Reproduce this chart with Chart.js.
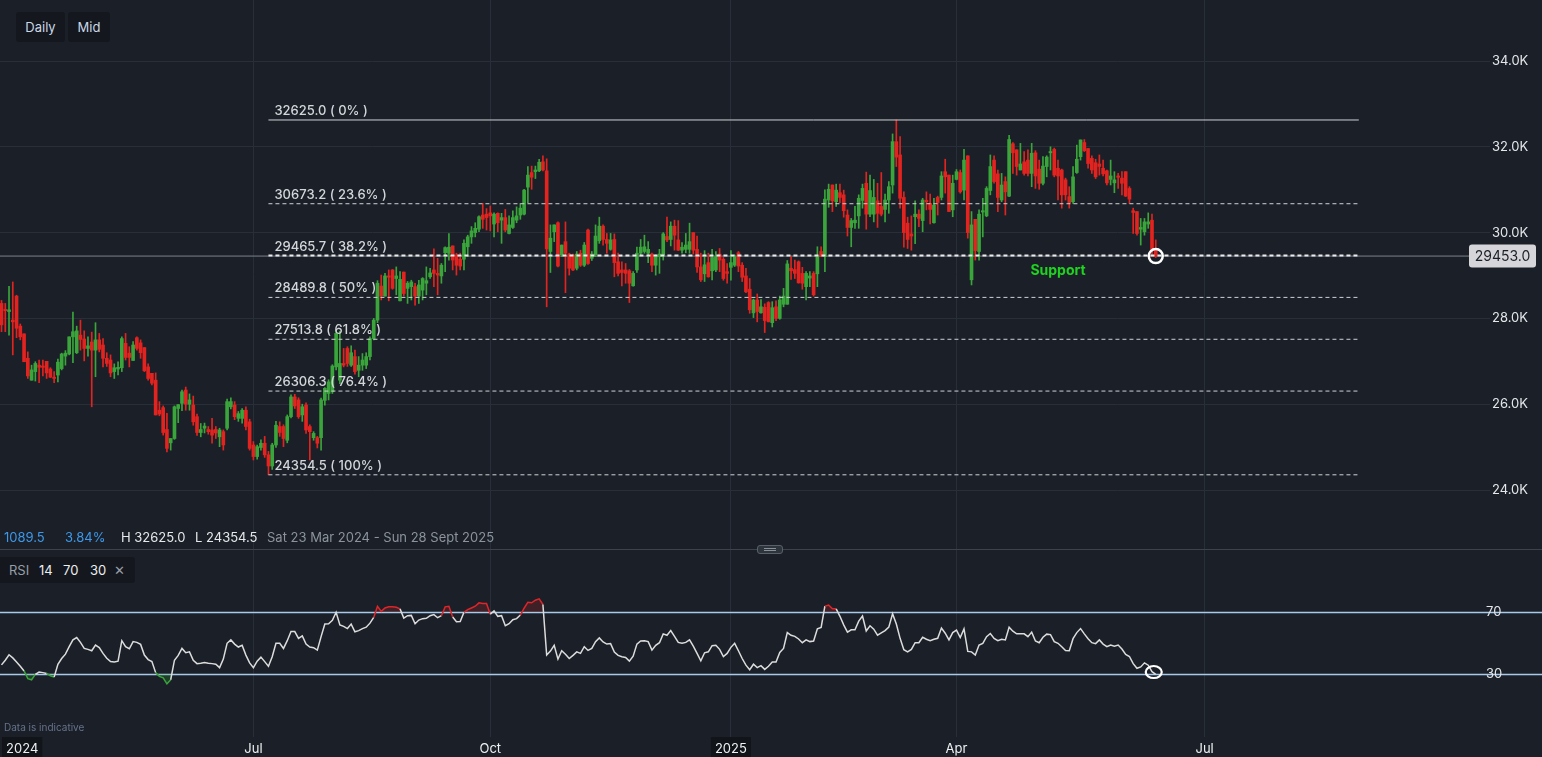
<!DOCTYPE html>
<html>
<head>
<meta charset="utf-8">
<script src="https://cdn.jsdelivr.net/npm/chart.js@4.4.1/dist/chart.umd.min.js"></script>
<style>
  body { margin: 0; background: #1b2028; width: 1542px; height: 757px; overflow: hidden; font-family: Inter, "Noto Sans", sans-serif; }
  canvas { position: absolute; left: 0; }
  #main { top: 0; }
  #rsi { top: 549px; }
  .btn { position: absolute; top: 12px; height: 30px; line-height: 30px; background: #14181e; color: #cbd7e6; font-size: 13px; text-align: center; border-radius: 3px; }
  .t { position: absolute; font-size: 13px; white-space: nowrap; }
  .info { top: 529px; color: #e6e8eb; }
  .blue { color: #3d98ea; }
  .grey { color: #8c939c; }
  #sep { position: absolute; left: 0; top: 549px; width: 1542px; height: 1px; background: #3d434c; }
  #handle { position: absolute; left: 757px; top: 545px; width: 26px; height: 9px; background: #2e343c; border: 1px solid #5a6069; border-radius: 3px; box-sizing: border-box; }
  #handle:after { content: ""; position: absolute; left: 6px; right: 6px; top: 2px; height: 1px; border-top: 1px solid #8a9099; border-bottom: 1px solid #8a9099; }
  #rsiTag { position: absolute; left: 0; top: 557px; width: 135px; height: 26px; background: #14181e; border-radius: 0 3px 3px 0; }
  #rsiTag .t { top: 5px; color: #eceef0; }
  #rsiTag .g { color: #979ea7; }
  #note { position: absolute; left: 4px; top: 721px; font-size: 10px; color: #66728a; }
</style>
</head>
<body>
<canvas id="main" width="1542" height="549"></canvas>
<canvas id="rsi" width="1542" height="208"></canvas>
<div class="btn" style="left:16px;width:49px;">Daily</div>
<div class="btn" style="left:68px;width:42px;">Mid</div>
<div class="t info blue" style="left:4px;">1089.5</div>
<div class="t info blue" style="left:65px;">3.84%</div>
<div class="t info" style="left:121px;">H 32625.0</div>
<div class="t info" style="left:195px;">L 24354.5</div>
<div class="t info grey" style="left:267px;">Sat 23 Mar 2024 - Sun 28 Sept 2025</div>
<div id="sep"></div>
<div id="handle"></div>
<div id="rsiTag">
  <span class="t g" style="left:9px;">RSI</span>
  <span class="t" style="left:39px;">14</span>
  <span class="t" style="left:63px;">70</span>
  <span class="t" style="left:90px;">30</span>
  <span class="t g" style="left:114px;">&#10005;</span>
</div>
<div id="note">Data is indicative</div>
<script>
// daily candles (first one = late March 2024)
const opens = [
  28350, 28210, 28160, 27960, 28520, 27820, 27640, 27070, 26560, 26760,
  26910, 26890, 27000, 26820, 26630, 26680, 26830, 27120, 27170, 27570,
  27200, 27610, 27520, 27300, 27450, 27260, 27500, 27380, 27070, 27030,
  26760, 26820, 26850, 27420, 27190, 27020, 27550, 27430, 27320, 26870,
  26720, 26560, 25860, 25920, 25410, 25100, 25200, 25900, 26020, 26330,
  26000, 25980, 25710, 25340, 25440, 25410, 25400, 25410, 25240, 25360,
  25440, 25940, 25980, 25670, 25670, 25860, 25590, 25050, 24780, 24990,
  25090, 24820, 24560, 25050, 25480, 25480, 25160, 25710, 26170, 26100,
  25750, 25980, 25480, 25220, 25220, 25220, 26090, 26250, 26290, 26870,
  26560, 26950, 27300, 26910, 27110, 26790, 26910, 26910, 27110, 27530,
  27960, 28755, 28520, 28990, 29130, 28930, 28410, 29080, 28700, 28740,
  28740, 28520, 28660, 28820, 28970, 29130, 29050, 28990, 29530, 29520,
  29690, 29480, 29380, 29380, 29670, 29900, 30000, 30080, 30410, 30430,
  30460, 30200, 30450, 30290, 30350, 29980, 30120, 30290, 30410, 30430,
  31060, 31400, 31420, 31440, 31650, 31440, 29560, 30020, 30230, 29480,
  29790, 29500, 29480, 29170, 29520, 29240, 30060, 29400, 29480, 29810,
  30150, 29840, 29610, 29840, 29320, 29130, 29130, 29110, 28760, 29130,
  29520, 29560, 29520, 29500, 29240, 29440, 29480, 29910, 29840, 30150,
  29830, 29590, 29610, 29610, 30000, 29610, 29200, 29040, 29300, 29110,
  29130, 29500, 29380, 29090, 29190, 29240, 29530, 29240, 28990, 28680,
  28130, 28430, 28130, 28260, 28370, 27900, 28270, 28000, 28330, 28330,
  29170, 29140, 29320, 29050, 28740, 28940, 29050, 29040, 29560, 29440,
  30760, 31110, 30720, 30930, 30880, 30410, 30120, 30230, 30390, 30750,
  31150, 30430, 30430, 30740, 30610, 30540, 30760, 31110, 32120, 31810,
  30820, 30220, 29970, 30370, 30430, 30280, 30750, 30680, 30230, 30820,
  30820, 31420, 31340, 30530, 31240, 31400, 30990, 31790, 28900, 30310,
  29560, 30480, 30390, 30980, 31690, 31370, 30760, 31190, 30850, 32070,
  31930, 31460, 31650, 31690, 31380, 31860, 31480, 31150, 31540, 31860,
  31940, 31500, 31460, 31230, 30840, 30720, 31400, 31770, 32100, 31960,
  31730, 31630, 31600, 31500, 31440, 31240, 31160, 31320, 31270, 31420,
  31030, 30510, 30490, 30080, 30020, 30200, 30290, 29580
];
const highs = [
  28420, 28350, 28750, 28850, 28540, 27870, 27640, 27220, 26910, 26990,
  27030, 27030, 27000, 26850, 26760, 27050, 27190, 27250, 27570, 28150,
  27820, 27960, 27710, 27570, 27680, 27900, 27650, 27530, 27200, 27150,
  26940, 26990, 27570, 27650, 27340, 27460, 27570, 27500, 27320, 26940,
  26720, 26730, 26060, 25960, 25790, 25200, 25960, 25990, 26330, 26400,
  26240, 26190, 25770, 25550, 25560, 25480, 25670, 25480, 25440, 25400,
  26120, 26150, 26060, 25830, 25900, 25940, 25650, 25130, 25050, 25170,
  25250, 24900, 25090, 25600, 25590, 25520, 25750, 26220, 26230, 26150,
  26000, 26030, 25520, 25360, 25250, 26140, 26390, 26570, 26920, 27730,
  27700, 27300, 27340, 27360, 27260, 27110, 27180, 27200, 27570, 28000,
  28880, 29010, 29050, 29130, 29140, 29200, 29090, 29080, 28860, 28890,
  28820, 28890, 28950, 29200, 29170, 29620, 29400, 29280, 29670, 29980,
  29690, 29520, 29520, 29830, 29940, 30140, 30230, 30390, 30680, 30560,
  30620, 30460, 30460, 30450, 30540, 30390, 30510, 30600, 30680, 31010,
  31540, 31550, 31550, 31710, 31790, 31720, 30180, 30180, 30250, 29710,
  30250, 29520, 29500, 29560, 29590, 29770, 30080, 29560, 30180, 30360,
  30180, 29980, 29980, 29970, 29520, 29320, 29280, 29140, 29090, 29660,
  29840, 29940, 29790, 29520, 29480, 29610, 30000, 30360, 30250, 30290,
  30280, 29770, 29980, 30220, 30000, 29920, 29520, 29580, 29520, 29610,
  29560, 29630, 29420, 29280, 29580, 29480, 29560, 29300, 29170, 28930,
  28450, 28570, 28440, 28340, 28390, 28390, 28410, 28520, 28700, 29350,
  29440, 29360, 29340, 29190, 29090, 29090, 29090, 29670, 29670, 31000,
  31130, 31110, 31130, 31130, 30990, 30530, 30330, 30610, 30880, 31130,
  31410, 31340, 31240, 31150, 31400, 30900, 31190, 32300, 32625, 32240,
  30950, 30360, 30390, 30740, 30530, 30800, 30950, 30900, 30800, 30850,
  31420, 31710, 31340, 31340, 31470, 31460, 31940, 31790, 30490, 30310,
  30530, 30800, 31070, 31810, 31790, 31460, 31380, 31300, 32270, 32100,
  31930, 32080, 31890, 31930, 32080, 31910, 31690, 31770, 31790, 32000,
  31970, 31690, 31480, 31270, 31070, 31540, 32040, 32160, 32170, 31960,
  31790, 31710, 31810, 31690, 31460, 31690, 31420, 31380, 31420, 31420,
  31070, 30570, 30490, 30330, 30330, 30460, 30430, 29830
];
const lows = [
  27690, 27690, 27610, 27150, 27550, 27500, 26990, 26600, 26560, 26540,
  26500, 26660, 26600, 26620, 26500, 26520, 26800, 26910, 27150, 26970,
  27180, 27260, 27010, 27120, 25940, 26640, 27220, 26870, 26880, 26640,
  26600, 26680, 26760, 27030, 26870, 27020, 27260, 27070, 26760, 26560,
  26450, 25750, 25730, 25280, 24890, 24930, 25180, 25570, 25850, 25860,
  25860, 25510, 25270, 25240, 25330, 25300, 25090, 25200, 25010, 24930,
  25400, 25890, 25640, 25600, 25560, 25400, 24930, 24700, 24720, 24930,
  24760, 24354.5, 24480, 24990, 25250, 25010, 25100, 25680, 25900, 25670,
  25600, 25320, 24700, 25160, 24980, 24930, 25980, 26100, 26250, 26800,
  26480, 26870, 26880, 26880, 26700, 26640, 26790, 26830, 27030, 27500,
  27900, 28430, 28520, 28410, 28680, 28550, 28410, 28520, 28350, 28430,
  28310, 28350, 28430, 28550, 28930, 28740, 28550, 28820, 29090, 29360,
  29130, 29010, 29130, 29130, 29440, 29750, 29900, 30020, 30100, 30060,
  30040, 29900, 30020, 29750, 30020, 29970, 30100, 30230, 30310, 30410,
  30700, 31010, 31260, 31420, 31440, 28270, 29070, 29790, 29200, 29440,
  28600, 29010, 29110, 29130, 29210, 29210, 29260, 29350, 29440, 29750,
  29710, 29520, 29590, 28970, 28990, 28760, 28820, 28370, 28750, 29070,
  29480, 29520, 29300, 29090, 29010, 29050, 29360, 29790, 29690, 29590,
  29580, 29520, 29530, 29520, 29500, 29070, 28860, 28860, 28960, 28900,
  29090, 29090, 28890, 28820, 28890, 29210, 29090, 28860, 28600, 28120,
  28020, 27920, 28120, 27670, 27920, 27800, 27950, 27980, 28270, 28330,
  28910, 28930, 28820, 28680, 28430, 28740, 28520, 28740, 29440, 29090,
  30590, 30490, 30610, 30700, 30360, 29920, 29670, 30100, 30100, 30570,
  30080, 30370, 30250, 30120, 30390, 30250, 30450, 30920, 31540, 30570,
  29660, 29630, 29590, 29740, 30140, 30020, 30530, 30200, 30220, 30410,
  30760, 30920, 30490, 30370, 31230, 30920, 30760, 29870, 28780, 29360,
  29360, 29900, 30370, 30880, 31150, 30490, 30720, 30410, 30840, 31380,
  31340, 31460, 31340, 31320, 31070, 31030, 31010, 31110, 31300, 31460,
  31300, 30760, 30570, 30760, 30570, 30680, 31380, 31690, 31890, 31500,
  31380, 31260, 31340, 31320, 31110, 31110, 30930, 31030, 30880, 30840,
  30680, 29980, 29940, 29710, 29940, 30100, 29440, 29420
];
const closes = [
  27850, 28180, 28200, 27920, 27770, 27570, 26990, 26660, 26800, 26950,
  26860, 26860, 26730, 26630, 26600, 26980, 27170, 27190, 27570, 27690,
  27710, 27510, 27300, 27360, 27260, 27500, 27280, 27070, 26950, 26730,
  26850, 26860, 27530, 27090, 27090, 27380, 27300, 27200, 26780, 26600,
  26490, 25750, 25770, 25340, 24970, 25200, 25940, 25990, 26290, 26000,
  26100, 25590, 25340, 25410, 25490, 25360, 25280, 25330, 25400, 25050,
  26060, 26060, 25710, 25780, 25860, 25480, 24970, 24780, 25010, 25090,
  24820, 24560, 25050, 25510, 25340, 25200, 25710, 26170, 25960, 25710,
  25940, 25400, 25360, 25320, 25090, 26100, 26370, 26520, 26890, 27650,
  26950, 26910, 26950, 27200, 26760, 26910, 27030, 27110, 27530, 27960,
  28820, 28520, 28990, 28960, 28700, 28990, 28910, 28580, 28820, 28850,
  28520, 28780, 28930, 28880, 29060, 29050, 29010, 29240, 29650, 29660,
  29360, 29240, 29220, 29750, 29900, 30040, 30100, 30370, 30310, 30350,
  30390, 30430, 30230, 30350, 30060, 30180, 30350, 30390, 30570, 30990,
  31340, 31290, 31460, 31640, 31460, 29620, 29870, 30180, 29220, 29710,
  29520, 29170, 29130, 29500, 29240, 29710, 29280, 29500, 29920, 30150,
  29840, 29750, 29830, 29300, 29050, 29070, 29050, 28820, 29050, 29520,
  29660, 29670, 29610, 29240, 29440, 29500, 29970, 29830, 30150, 29940,
  29590, 29660, 29710, 29790, 29590, 29200, 28900, 29250, 28970, 29420,
  29440, 29360, 28930, 29050, 29300, 29440, 29220, 28960, 28620, 28200,
  28430, 28160, 28270, 27950, 27920, 28250, 28000, 28430, 28520, 29270,
  29110, 29050, 28830, 28820, 29050, 28990, 28550, 29440, 29450, 30780,
  31010, 30740, 30990, 30820, 30510, 30120, 30280, 30290, 30800, 31030,
  30430, 30980, 30820, 30450, 30430, 30760, 31070, 32120, 31760, 30800,
  30000, 29840, 29920, 30430, 30330, 30760, 30720, 30540, 30640, 30700,
  31320, 31300, 30490, 31150, 31420, 30950, 31690, 30000, 30180, 29580,
  30430, 30510, 31030, 31540, 31190, 30820, 31110, 30950, 32170, 31860,
  31540, 31600, 31380, 31380, 31850, 31320, 31150, 31550, 31760, 31890,
  31340, 31320, 30880, 30880, 30700, 31300, 31710, 32160, 31910, 31610,
  31460, 31300, 31540, 31370, 31160, 31320, 31230, 31290, 31150, 30850,
  30780, 30470, 29980, 30120, 30250, 30250, 29600, 29453
];
// RSI(14) per candle
const rsiValues = [
  35.9, 38.9, 42.4, 40.4, 37.8, 35.0, 32.0, 27.0, 26.3, 29.8,
  31.3, 30.9, 30.4, 28.9, 28.0, 36.3, 40.0, 42.8, 47.6, 52.0,
  53.5, 50.4, 46.5, 45.9, 45.0, 48.7, 47.0, 43.3, 40.2, 38.0,
  37.8, 38.3, 51.5, 47.6, 46.3, 50.9, 50.4, 49.1, 42.2, 39.3,
  38.0, 30.9, 28.5, 27.6, 23.7, 26.3, 38.9, 42.0, 46.5, 43.7,
  44.3, 38.9, 36.7, 37.0, 37.4, 37.0, 36.7, 36.3, 34.1, 39.6,
  49.8, 52.0, 49.3, 47.4, 48.5, 42.2, 37.2, 34.1, 38.3, 40.9,
  38.0, 35.0, 41.1, 49.8, 49.8, 46.5, 51.5, 57.4, 57.4, 53.0,
  54.6, 49.3, 47.4, 47.0, 45.4, 54.1, 62.2, 62.4, 64.6, 69.8,
  61.7, 60.7, 59.3, 62.2, 57.2, 58.0, 59.3, 60.2, 62.8, 66.5,
  73.7, 70.4, 72.6, 73.3, 73.3, 73.0, 72.0, 66.1, 67.6, 67.8,
  62.4, 64.8, 65.7, 65.9, 67.6, 68.3, 66.3, 67.6, 73.3, 73.7,
  66.7, 63.7, 63.9, 69.8, 71.5, 72.6, 73.7, 75.9, 75.4, 75.4,
  68.5, 70.7, 67.2, 67.6, 61.1, 62.4, 65.0, 65.7, 68.0, 72.4,
  76.3, 75.9, 77.6, 78.5, 74.8, 42.2, 44.8, 48.5, 39.6, 45.0,
  42.8, 40.0, 42.0, 44.3, 43.3, 47.6, 45.2, 46.5, 50.9, 53.3,
  50.7, 49.3, 49.6, 44.1, 42.0, 41.1, 40.7, 38.3, 41.5, 49.3,
  51.3, 51.5, 50.9, 45.4, 48.5, 50.2, 55.9, 55.0, 58.0, 54.3,
  50.4, 49.8, 50.4, 52.0, 48.0, 43.3, 38.5, 43.7, 44.3, 48.3,
  48.5, 45.9, 41.3, 43.3, 47.2, 49.8, 45.0, 40.0, 35.7, 32.8,
  36.3, 34.1, 35.4, 33.0, 35.0, 37.8, 37.8, 43.9, 46.5, 56.7,
  55.0, 54.3, 52.6, 50.2, 52.0, 50.9, 51.3, 59.1, 60.0, 73.7,
  74.4, 72.0, 72.0, 67.2, 61.7, 57.0, 58.5, 58.5, 64.1, 67.4,
  57.8, 61.1, 58.9, 55.0, 56.5, 58.0, 60.2, 68.9, 62.2, 53.0,
  45.7, 44.3, 45.9, 50.2, 50.2, 53.7, 52.4, 51.5, 52.4, 53.0,
  59.6, 56.3, 52.0, 56.7, 58.3, 53.5, 59.1, 44.6, 44.3, 42.2,
  48.7, 49.8, 54.1, 56.1, 53.0, 51.5, 52.4, 52.0, 60.2, 57.6,
  55.9, 55.9, 55.9, 54.1, 57.0, 51.3, 50.2, 53.7, 55.7, 55.4,
  50.9, 49.8, 47.6, 45.2, 45.0, 52.8, 56.7, 59.3, 55.9, 52.8,
  50.2, 49.6, 52.0, 49.3, 47.6, 48.7, 48.0, 48.7, 46.1, 42.6,
  41.3, 36.7, 33.7, 34.6, 37.2, 35.7, 31.5, 29.8
];

const fibLevels = [32625.0, 30673.2, 29465.7, 28489.8, 27513.8, 26306.3, 24354.5];
const fibPcts = ['0%', '23.6%', '38.2%', '50%', '61.8%', '76.4%', '100%'];
const fibFrom = 71;   // candle of the 24354.5 low
const fibTo = 361;
const lastPrice = 29453.0;

const priceTicks = [24000, 26000, 28000, 30000, 32000, 34000];
const rsiTicks = [30, 70];
const monthTickIdx = [5.5, 67, 130, 194, 254, 320];
const monthTickLabels = ['2024', 'Jul', 'Oct', '2025', 'Apr', 'Jul'];

const X_MIN = -0.4, X_MAX = 395.9;
const gridColor = '#292f38';
const upColor = '#3aa53b';
const downColor = '#e2231f';

Chart.defaults.font.family = 'Inter, "Noto Sans", sans-serif';
Chart.defaults.animation = false;

const candleColors = closes.map((c, i) => c >= opens[i] ? upColor : downColor);

const bodies = {
  type: 'bar',
  data: opens.map((o, i) => ({ x: i, y: [o, closes[i]] })),
  backgroundColor: candleColors,
  barThickness: 3,
  minBarLength: 1,
  grouped: false,
  order: 1
};
const wicks = {
  type: 'bar',
  data: opens.map((o, i) => ({ x: i, y: [Math.min(lows[i], o, closes[i]), Math.max(highs[i], o, closes[i])] })),
  backgroundColor: candleColors,
  barThickness: 1,
  grouped: false,
  order: 2
};
const priceLine = {
  type: 'line',
  data: [{ x: X_MIN, y: lastPrice }, { x: X_MAX, y: lastPrice }],
  borderColor: '#7c828b',
  borderWidth: 1,
  pointRadius: 0,
  order: 3
};
const fibSets = fibLevels.map((lv, k) => ({
  type: 'line',
  data: [{ x: fibFrom, y: lv }, { x: fibTo, y: lv }],
  borderColor: k === 2 ? '#ececec' : '#cfd2d6',
  borderWidth: k === 2 ? 2 : 1,
  borderDash: k === 0 ? [] : [4, 3],
  pointRadius: 0,
  order: 0
}));

// no extra room above/below the value axes
const noPad = s => { s.paddingTop = 0; s.paddingBottom = 0; };

const mainOverlay = {
  id: 'mainOverlay',
  afterDatasetsDraw(chart) {
    const { ctx, scales: { x, y } } = chart;
    ctx.save();
    // fib labels
    ctx.font = '500 13px Inter, "Noto Sans", sans-serif';
    ctx.fillStyle = '#d2d5d9';
    ctx.textBaseline = 'alphabetic';
    fibLevels.forEach((lv, k) => {
      ctx.fillText(lv.toFixed(1) + ' ( ' + fibPcts[k] + ' )', x.getPixelForValue(fibFrom) + 6, y.getPixelForValue(lv) - 5);
    });
    // support note
    ctx.font = 'bold 14px Inter, "Noto Sans", sans-serif';
    ctx.fillStyle = '#1fd420';
    ctx.textAlign = 'center';
    ctx.textBaseline = 'middle';
    ctx.fillText('Support', x.getPixelForValue(281), y.getPixelForValue(29105));
    // circle on last candle
    const li = closes.length - 1;
    ctx.beginPath();
    ctx.arc(x.getPixelForValue(li), y.getPixelForValue(lastPrice), 7, 0, Math.PI * 2);
    ctx.strokeStyle = '#ffffff';
    ctx.lineWidth = 2.5;
    ctx.stroke();
    ctx.restore();
  },
  afterDraw(chart) {
    const { ctx, chartArea, scales: { y } } = chart;
    const cy = y.getPixelForValue(lastPrice);
    const bx = chartArea.right - 21, bw = 67, bh = 23;
    ctx.save();
    ctx.fillStyle = '#d6d6da';
    ctx.beginPath();
    ctx.roundRect(bx, cy - bh / 2, bw, bh, 3);
    ctx.fill();
    ctx.fillStyle = '#1b2028';
    ctx.font = '14px Inter, "Noto Sans", sans-serif';
    ctx.textAlign = 'center';
    ctx.textBaseline = 'middle';
    ctx.fillText(lastPrice.toFixed(1), bx + bw / 2, cy + 1);
    ctx.restore();
  }
};

new Chart(document.getElementById('main'), {
  type: 'bar',
  data: { datasets: [...fibSets, bodies, wicks, priceLine] },
  options: {
    responsive: false,
    layout: { padding: 0 },
    plugins: { legend: { display: false }, tooltip: { enabled: false } },
    scales: {
      x: {
        type: 'linear', min: X_MIN, max: X_MAX, offset: false,
        grid: { color: gridColor, drawTicks: false, offset: false },
        border: { display: false },
        ticks: { display: false },
        afterBuildTicks: s => { s.ticks = monthTickIdx.slice(1).map(v => ({ value: v })); },
        afterFit: s => { s.height = 0; s.paddingLeft = 0; s.paddingRight = 0; }
      },
      y: {
        position: 'right', min: 22625, max: 35422,
        grid: { color: gridColor, drawTicks: false },
        border: { display: false },
        ticks: {
          color: '#e4e6ea', font: { size: 13 }, padding: 2,
          callback: v => (v / 1000).toFixed(1) + 'K'
        },
        afterBuildTicks: s => { s.ticks = priceTicks.map(v => ({ value: v })); },
        afterFit: s => { s.width = 52; noPad(s); }
      }
    }
  },
  plugins: [mainOverlay]
});

// RSI panel
const rsiPts = rsiValues.map((v, i) => ({ x: i, y: v }));
const segColor = c => {
  const m = (c.p0.parsed.y + c.p1.parsed.y) / 2;
  if (m > 70) return '#e0252a';
  if (m < 30) return '#3aa53b';
  return '#dcdcdc';
};
const rsiOverlay = {
  id: 'rsiOverlay',
  beforeDatasetsDraw(chart) {
    const { ctx, width, scales: { y } } = chart;
    ctx.save();
    ctx.strokeStyle = '#a9c9ea';
    ctx.lineWidth = 1.5;
    rsiTicks.forEach(v => {
      const py = Math.round(y.getPixelForValue(v)) + 0.5;
      ctx.beginPath();
      ctx.moveTo(0, py);
      ctx.lineTo(width, py);
      ctx.stroke();
    });
    ctx.restore();
  },
  afterDatasetsDraw(chart) {
    const { ctx, chartArea, scales: { x, y } } = chart;
    const li = rsiValues.length - 1;
    ctx.save();
    ctx.beginPath();
    ctx.ellipse(x.getPixelForValue(li) - 2, y.getPixelForValue(30) - 2, 8, 6, 0, 0, Math.PI * 2);
    ctx.strokeStyle = '#ffffff';
    ctx.lineWidth = 2.2;
    ctx.stroke();
    // level labels on the value axis
    ctx.font = '13px Inter, "Noto Sans", sans-serif';
    ctx.fillStyle = '#e4e6ea';
    ctx.textAlign = 'left';
    ctx.textBaseline = 'middle';
    rsiTicks.forEach(v => ctx.fillText(String(v), chartArea.right - 4, y.getPixelForValue(v)));
    ctx.restore();
  }
};

new Chart(document.getElementById('rsi'), {
  type: 'line',
  data: {
    datasets: [
      {
        data: rsiPts, borderColor: '#dcdcdc', borderWidth: 1.5, pointRadius: 0, tension: 0,
        segment: { borderColor: segColor },
        fill: { target: { value: 70 }, above: 'rgba(190,30,35,0.22)', below: 'rgba(0,0,0,0)' }
      },
      {
        data: rsiPts, borderColor: 'rgba(0,0,0,0)', borderWidth: 0, pointRadius: 0, tension: 0,
        fill: { target: { value: 30 }, above: 'rgba(0,0,0,0)', below: 'rgba(40,170,40,0.22)' }
      }
    ]
  },
  options: {
    responsive: false,
    layout: { padding: 0 },
    plugins: { legend: { display: false }, tooltip: { enabled: false } },
    scales: {
      x: {
        type: 'linear', min: X_MIN, max: X_MAX, offset: false,
        grid: {
          drawTicks: false,
          color: c => (c.tick && c.tick.value === monthTickIdx[0]) ? 'rgba(0,0,0,0)' : gridColor
        },
        border: { display: false },
        ticks: {
          color: '#eef0f2', font: { size: 13 }, padding: 4, autoSkip: false, maxRotation: 0,
          callback: v => monthTickLabels[monthTickIdx.indexOf(v)],
          showLabelBackdrop: c => c.tick && (c.tick.value === monthTickIdx[0] || c.tick.value === monthTickIdx[3]),
          backdropColor: '#111419',
          backdropPadding: { x: 4, y: 4 }
        },
        afterBuildTicks: s => { s.ticks = monthTickIdx.map(v => ({ value: v })); },
        afterFit: s => { s.height = 20; s.paddingLeft = 0; s.paddingRight = 0; }
      },
      y: {
        position: 'right', min: -10.6, max: 110.6,
        grid: { display: false },
        border: { display: false },
        ticks: { display: false },
        afterBuildTicks: s => { s.ticks = rsiTicks.map(v => ({ value: v })); },
        afterFit: s => { s.width = 52; noPad(s); }
      }
    }
  },
  plugins: [rsiOverlay]
});
</script>
</body>
</html>
